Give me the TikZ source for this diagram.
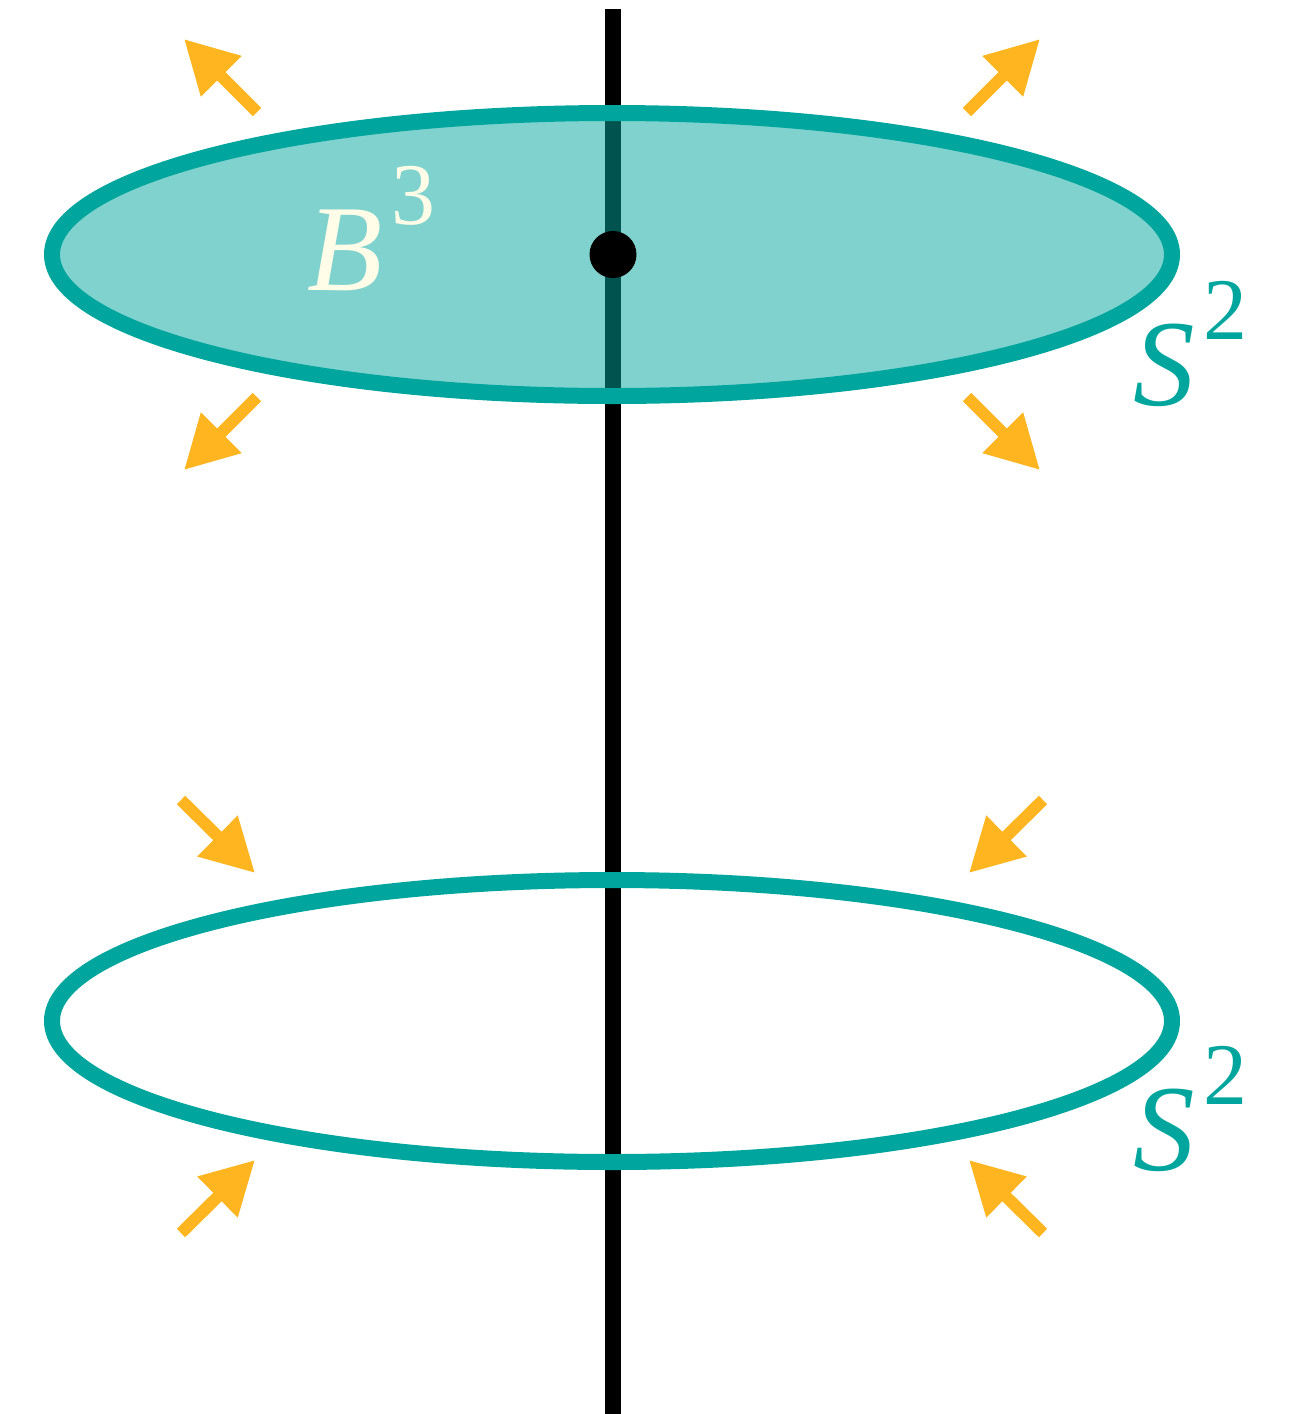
\documentclass[tikz,border=0pt]{standalone}
\usepackage{fontspec}
\setmainfont{Liberation Serif}
\usepackage{xcolor}
\usepackage{tikz}
\usetikzlibrary{arrows.meta, calc}
\definecolor{sphTeal}{HTML}{00A69D}
\definecolor{sphOrange}{HTML}{FFB520}
\definecolor{sphCream}{HTML}{FFFDE8}
\newcommand{\supsym}[2]{\textit{#1}\kern0.07em\raisebox{0.53em}{\fontsize{25pt}{25pt}\selectfont #2}}
\begin{document}
\begin{tikzpicture}[x=0.01cm, y=-0.01cm, axis/.style={line width=4.55pt, color=black}, sphere/.style={line width=4.55pt, draw=sphTeal}, flow/.style={-{Triangle[length=15pt, width=15.4pt]}, line width=3.4pt, color=sphOrange}, lbl/.style={anchor=base west, inner sep=0pt, font=\fontsize{35pt}{35pt}\selectfont}]
\useasboundingbox (0,0) rectangle (1292,1414);
\coordinate (ctop) at (612,254.5); \coordinate (cbot) at (612,1021);
\coordinate (axtop) at (613,9); \coordinate (axbot) at (613,1414);
\draw[axis] (axtop)--(axbot);
\fill[sphTeal, fill opacity=0.5] (ctop) ellipse [x radius=560, y radius=141.5];
\draw[sphere] (ctop) ellipse [x radius=560, y radius=141.5];
\draw[sphere] (cbot) ellipse [x radius=560, y radius=141];
\fill[black] (613,254.5) circle [radius=23.5];
\node[lbl, text=sphCream] (ball) at (307,290) {\supsym{B}{3}};
\node[lbl, text=sphTeal] (s2top) at (1133,405) {\supsym{S}{2}};
\node[lbl, text=sphTeal] (s2bot) at (1133,1170) {\supsym{S}{2}};
% outward on the ball, inward on the lower sphere
\foreach \sx in {-1,1} \foreach \sy in {-1,1} {
\draw[flow] ($(ctop)+(\sx*355,\sy*142.5)$)--($(ctop)+(\sx*428,\sy*215.5)$);
\draw[flow] ($(cbot)+(\sx*431,\sy*216.5-4.5)$)--($(cbot)+(\sx*357,\sy*143.5-4.5)$);
}
\end{tikzpicture}
\end{document}
